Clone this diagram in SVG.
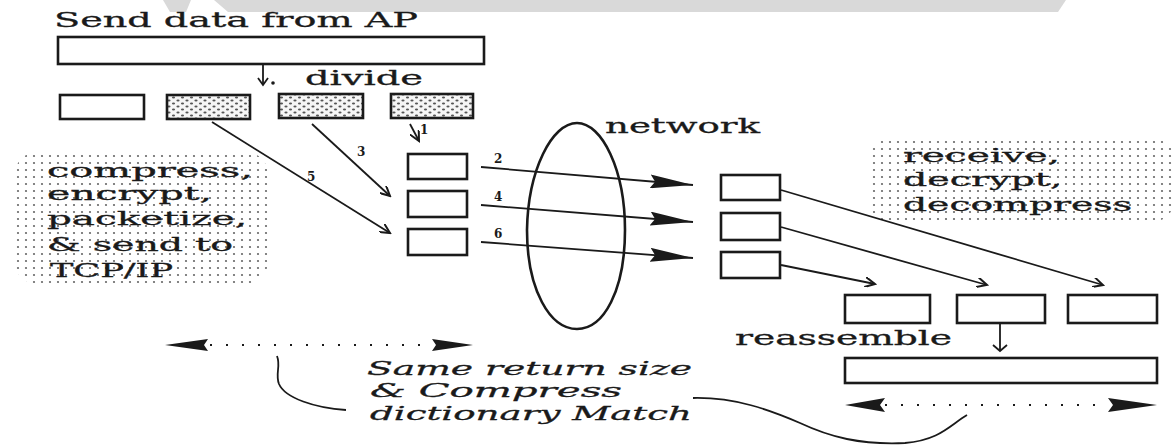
<svg xmlns="http://www.w3.org/2000/svg" width="1173" height="446" viewBox="0 0 1173 446">
  <style>
    .bg { fill: #ffffff; }
    .box { fill: #ffffff; stroke: #1a1a1a; stroke-width: 2.6; }
    .hbox { fill: url(#fine); stroke: #1a1a1a; stroke-width: 2.6; }
    .lbl { font-family: "DejaVu Serif", "Liberation Serif", serif; fill: #1a1a1a; stroke: #1a1a1a; stroke-width: 0.3; }
    .ital { font-family: "DejaVu Serif", "Liberation Serif", serif; font-style: italic; fill: #1a1a1a; stroke: #1a1a1a; stroke-width: 0.3; }
    .num { font-family: "DejaVu Serif", "Liberation Serif", serif; font-size: 12px; font-weight: bold; fill: #1a1a1a; }
    .conn { fill: none; stroke: #1a1a1a; stroke-width: 1.8; }
    .dotline { fill: none; stroke: #1a1a1a; stroke-width: 2; stroke-dasharray: 2 14; }
    .head { fill: #1a1a1a; }
    .cloud { fill: url(#dots); }
    .wm { fill: #d9d9d9; }
  </style>
  <defs>
    <pattern id="dots" width="8" height="7" patternUnits="userSpaceOnUse">
      <circle cx="2" cy="2" r="1.1" fill="#666666"/>
    </pattern>
    <pattern id="fine" width="9" height="6" patternUnits="userSpaceOnUse">
      <rect width="9" height="6" fill="#f6f6f6"/>
      <ellipse cx="2.5" cy="1.5" rx="1.6" ry="1" fill="#555555"/>
      <ellipse cx="7" cy="4.5" rx="1.6" ry="1" fill="#555555"/>
    </pattern>
    <marker id="openHead" markerWidth="12" markerHeight="10" refX="10" refY="5" orient="auto" markerUnits="userSpaceOnUse">
      <path d="M0,0 L10,5 L0,10" fill="none" stroke="#1a1a1a" stroke-width="2"/>
    </marker>
    <marker id="bigHead" markerWidth="44" markerHeight="14" refX="43" refY="7" orient="auto" markerUnits="userSpaceOnUse">
      <path d="M0,0 L43,7 L0,14 L5,7 z" fill="#1a1a1a"/>
    </marker>
  </defs>

  <rect class="bg" x="0" y="0" width="1173" height="446"/>

  <!-- watermark band at top -->
  <polygon class="wm" points="163,0 191,0 186,12 170,12"/>
  <polygon class="wm" points="214,0 1066,0 1058,12 228,12"/>

  <!-- dotted background areas -->
  <rect class="cloud" x="15" y="152" width="253" height="132" rx="22"/>
  <rect class="cloud" x="870" y="138" width="303" height="83" rx="18"/>

  <!-- texts -->
  <text class="lbl" x="54" y="27" font-size="20" textLength="364" lengthAdjust="spacingAndGlyphs">Send data from AP</text>
  <text class="lbl" x="305" y="85" font-size="20" textLength="118" lengthAdjust="spacingAndGlyphs">divide</text>
  <text class="lbl" x="605" y="133" font-size="20" textLength="155" lengthAdjust="spacingAndGlyphs">network</text>
  <text class="lbl" x="735" y="345" font-size="20" textLength="217" lengthAdjust="spacingAndGlyphs">reassemble</text>

  <g id="left-note">
    <text class="lbl" x="47" y="177" font-size="18" textLength="206" lengthAdjust="spacingAndGlyphs">compress,</text>
    <text class="lbl" x="47" y="200" font-size="18" textLength="165" lengthAdjust="spacingAndGlyphs">encrypt,</text>
    <text class="lbl" x="47" y="225" font-size="18" textLength="200" lengthAdjust="spacingAndGlyphs">packetize,</text>
    <text class="lbl" x="47" y="251" font-size="18" textLength="186" lengthAdjust="spacingAndGlyphs">&amp; send to</text>
    <text class="lbl" x="50" y="277" font-size="18" textLength="123" lengthAdjust="spacingAndGlyphs">TCP/IP</text>
  </g>

  <g id="right-note">
    <text class="lbl" x="903" y="162" font-size="18" textLength="157" lengthAdjust="spacingAndGlyphs">receive,</text>
    <text class="lbl" x="903" y="186" font-size="18" textLength="159" lengthAdjust="spacingAndGlyphs">decrypt,</text>
    <text class="lbl" x="903" y="211" font-size="18" textLength="229" lengthAdjust="spacingAndGlyphs">decompress</text>
  </g>

  <g id="bottom-note">
    <text class="ital" x="367" y="375" font-size="19" textLength="325" lengthAdjust="spacingAndGlyphs">Same return size</text>
    <text class="ital" x="370" y="397" font-size="19" textLength="252" lengthAdjust="spacingAndGlyphs">&amp; Compress</text>
    <text class="ital" x="370" y="420" font-size="19" textLength="322" lengthAdjust="spacingAndGlyphs">dictionary Match</text>
  </g>

  <!-- nodes -->
  <g id="source-data"><rect class="box" x="58" y="37" width="426" height="27"/></g>
  <g id="piece-1"><rect class="box" x="60" y="95" width="84" height="24"/></g>
  <g id="piece-2"><rect class="hbox" x="167" y="95" width="83" height="24"/></g>
  <g id="piece-3"><rect class="hbox" x="279" y="94" width="84" height="24"/></g>
  <g id="piece-4"><rect class="hbox" x="391" y="94" width="82" height="24"/></g>

  <g id="packet-a"><rect class="box" x="408" y="154" width="59" height="25"/></g>
  <g id="packet-b"><rect class="box" x="408" y="191" width="59" height="26"/></g>
  <g id="packet-c"><rect class="box" x="408" y="229" width="59" height="26"/></g>

  <g id="network">
    <path d="M577,123 C552,123 528,170 527,230 C527,290 550,329 577,329 C604,329 625,290 625,230 C625,170 602,123 577,123 Z" fill="none" stroke="#1a1a1a" stroke-width="2.6"/>
  </g>

  <g id="recv-a"><rect class="box" x="721" y="175" width="59" height="25"/></g>
  <g id="recv-b"><rect class="box" x="721" y="213" width="59" height="27"/></g>
  <g id="recv-c"><rect class="box" x="721" y="252" width="59" height="26"/></g>

  <g id="out-1"><rect class="box" x="845" y="295" width="85" height="28"/></g>
  <g id="out-2"><rect class="box" x="957" y="295" width="88" height="28"/></g>
  <g id="out-3"><rect class="box" x="1068" y="295" width="89" height="28"/></g>

  <g id="result-data"><rect class="box" x="845" y="358" width="312" height="25"/></g>

  <!-- connectors -->
  <g id="connectors">
    <!-- divide arrow -->
    <path class="conn" d="M263,65 L263,84" />
    <path class="conn" d="M258,78 L263,85 L268,78" />
    <circle cx="273" cy="83" r="1.8" class="head"/>

    <!-- piece-4 down to packet-a -->
    <path class="conn" d="M410,124 L419,141" marker-end="url(#openHead)"/>
    <text class="num" x="420" y="134">1</text>

    <!-- piece-2 to packet-c -->
    <path class="conn" d="M212,122 L390,233" marker-end="url(#openHead)"/>
    <text class="num" x="307" y="181">5</text>
    <!-- piece-3 to packet-b -->
    <path class="conn" d="M312,124 L390,196" marker-end="url(#openHead)"/>
    <text class="num" x="357" y="156">3</text>

    <!-- across network -->
    <path class="conn" d="M481,167 L693,185" marker-end="url(#bigHead)"/>
    <text class="num" x="494" y="163">2</text>
    <path class="conn" d="M481,205 L693,222" marker-end="url(#bigHead)"/>
    <text class="num" x="494" y="201">4</text>
    <path class="conn" d="M481,242 L693,258" marker-end="url(#bigHead)"/>
    <text class="num" x="494" y="238">6</text>

    <!-- receive to output -->
    <path class="conn" d="M781,190 L1103,285" marker-end="url(#openHead)"/>
    <path class="conn" d="M781,227 L987,285" marker-end="url(#openHead)"/>
    <path class="conn" d="M781,265 L875,284" marker-end="url(#openHead)"/>

    <!-- reassemble arrow -->
    <path class="conn" d="M1000,323 L1000,350"/>
    <path class="conn" d="M993,345 L1000,351 L1007,345"/>

    <!-- size arrows -->
    <path class="dotline" d="M210,345 L432,345"/>
    <path d="M165,345 L208,339 L204,345 L208,351 Z" class="head"/>
    <path d="M473,345 L432,339 L436,345 L432,351 Z" class="head"/>

    <path class="dotline" d="M885,405 L1108,405"/>
    <path d="M845,405 L885,398 L880,405 L885,412 Z" class="head"/>
    <path d="M1157,405 L1108,398 L1113,405 L1108,412 Z" class="head"/>

    <!-- callout curves -->
    <path class="conn" d="M277,356 C281,366 275,374 279,384 C285,398 315,408 346,410"/>
    <path class="conn" d="M693,398 C735,397 770,410 800,423 C830,437 860,445 905,443 C940,440 950,425 967,415"/>
  </g>
</svg>
